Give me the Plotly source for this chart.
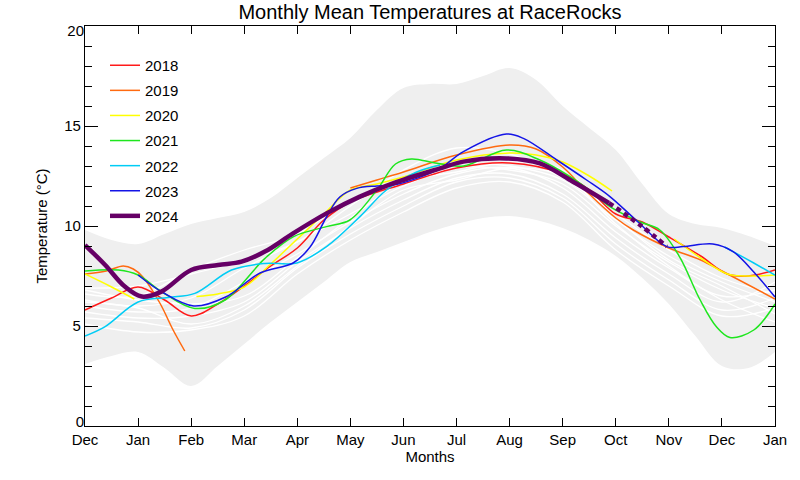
import plotly.graph_objects as go

month_labels = ["Dec", "Jan", "Feb", "Mar", "Apr", "May", "Jun", "Jul",
                "Aug", "Sep", "Oct", "Nov", "Dec", "Jan"]
month_pos = list(range(14))
temp_ticks_mid = [5, 10, 15]
temp_tick_low = [0]
temp_tick_high = [20]

# envelope (min / max of all years)
band_x = [0, 0.5, 1, 1.5, 2, 2.5, 3, 3.5, 4, 4.5, 5, 5.5, 6, 6.5, 7, 7.5, 8, 8.5, 9, 9.5, 10, 10.5, 11, 11.5, 12, 12.5, 13]
band_hi = [9.8, 9.3, 9.1, 9.6, 10.1, 10.4, 10.7, 11.4, 12.4, 13.4, 14.4, 15.8, 16.9, 17.1, 17.1, 17.5, 17.9, 17.3, 16.0, 14.9, 13.8, 12.1, 10.6, 10.1, 9.9, 9.5, 9.0]
band_lo = [3.1, 3.5, 3.7, 2.9, 2.0, 3.0, 4.1, 5.2, 6.2, 7.2, 8.2, 8.7, 9.2, 9.7, 10.1, 10.4, 10.5, 10.3, 9.9, 9.3, 8.5, 7.4, 6.1, 4.5, 3.0, 2.9, 3.7]

# historic years (white lines)
hist_years = [
    [6.9, 7.0, 7.6, 8.3, 9.2, 11.0, 12.8, 13.9, 13.6, 12.4, 10.6, 8.8, 7.4, 6.6],
    [6.6, 6.5, 7.8, 8.8, 9.6, 11.3, 12.4, 13.1, 13.0, 12.3, 10.3, 8.5, 7.2, 6.2],
    [6.3, 6.0, 6.4, 7.9, 9.2, 10.6, 12.0, 12.9, 12.8, 12.1, 10.0, 8.2, 6.8, 5.9],
    [6.0, 5.7, 5.9, 7.2, 8.6, 10.2, 11.6, 12.6, 12.9, 11.9, 9.7, 7.9, 6.5, 6.8],
    [5.7, 5.4, 5.5, 6.2, 8.2, 9.9, 11.3, 12.4, 12.6, 11.6, 9.4, 7.6, 6.2, 7.2],
    [5.4, 5.2, 4.9, 5.8, 7.9, 9.6, 11.0, 12.2, 12.4, 11.4, 9.1, 7.3, 5.8, 6.4],
    [5.1, 4.7, 4.8, 5.5, 7.6, 9.3, 10.7, 11.9, 12.2, 11.2, 8.8, 7.0, 5.5, 5.9],
    [6.2, 5.9, 5.1, 6.0, 8.0, 10.0, 11.8, 12.3, 12.9, 12.5, 10.1, 8.0, 6.3, 5.2],
    [6.8, 6.3, 6.1, 6.5, 8.4, 10.4, 12.2, 12.7, 13.2, 12.8, 10.4, 8.3, 7.0, 5.6],
]

x2018 = [0, 0.5, 1, 1.5, 2, 2.5, 3, 3.5, 4, 4.5, 5, 6, 7, 8, 9, 9.5, 10, 10.5, 11, 11.6, 12.1, 12.5, 13]
y2018 = [5.8, 6.4, 6.95, 6.3, 5.5, 6.1, 7.0, 8.0, 8.9, 10.3, 11.2, 12.1, 12.9, 13.15, 12.6, 11.8, 10.6, 10.2, 9.45, 8.5, 7.6, 7.5, 7.8]

x2019 = [0, 0.4, 0.72, 0.91, 1.09, 1.41, 1.66, 1.88, None, 5.0, 5.5, 6, 7, 8, 8.5, 9, 9.5, 10, 10.33, 11, 11.6, 12, 13]
y2019 = [7.6, 7.75, 8.0, 7.85, 7.45, 6.15, 4.8, 3.75, None, 11.9, 12.3, 12.7, 13.55, 14.05, 13.85, 12.95, 11.6, 10.4, 9.8, 8.9, 8.3, 7.75, 6.35]

x2020 = [0, 0.5, 0.93, None, 2.1, 2.5, 3.0, 3.5, 4.0, 4.5, 5.0, 5.5, 6, 7, 8, 8.5, 9, 9.5, 9.93, None, 11.1, 11.6, 12.1, 12.5, 13]
y2020 = [7.6, 6.95, 6.35, None, 6.47, 6.6, 6.95, 8.1, 9.35, 10.6, 11.8, 12.1, 12.45, 13.3, 13.65, 13.55, 13.2, 12.5, 11.75, None, 9.35, 8.4, 7.6, 7.5, 7.55]

x2021 = [0, 0.63, 1.0, 1.44, 2.07, 2.64, 3.39, 3.93, 4.55, 4.99, 5.5, 5.85, 6.15, 6.6, 7.13, 7.94, 8.57, 9.14, 9.5, 9.89, 10.46, 10.83, 11.2, 11.59, 11.9, 12.15, 12.6, 13.0]
y2021 = [7.75, 7.8, 7.55, 6.72, 5.88, 6.3, 8.38, 9.47, 9.97, 10.3, 11.8, 13.1, 13.35, 13.15, 13.0, 13.8, 13.3, 12.47, 11.8, 10.97, 10.2, 9.8, 8.47, 6.3, 4.95, 4.43, 4.8, 6.1]

x2022 = [0, 0.38, 1.0, 1.57, 2.07, 2.76, 3.39, 3.99, 4.55, 5.18, 5.68, 6.25, 6.69, None, 12.05, 12.21, 12.6, 13.0]
y2022 = [4.5, 4.97, 6.2, 6.43, 6.63, 7.8, 8.13, 8.15, 8.97, 10.47, 11.8, 12.7, 13.05, None, 8.95, 8.72, 8.15, 7.55]

x2023 = [1.0, 1.45, 2.05, 2.65, 3.3, 3.92, 4.24, 4.55, 4.8, 5.12, 5.5, 5.81, 6.25, 6.69, 7.13, 7.94, 8.26, 8.89, 9.45, 9.89, 10.42, 10.96, 11.27, 11.83, 12.21, 12.6, 13.0]
y2023 = [7.55, 6.7, 6.0, 6.45, 7.65, 8.15, 8.95, 10.45, 11.45, 11.88, 12.0, 12.05, 12.38, 12.88, 13.72, 14.6, 14.38, 13.3, 12.3, 11.47, 10.2, 8.97, 8.97, 9.1, 8.72, 7.7, 6.45]

x2024 = [0, 0.38, 0.75, 1.07, 1.44, 2.0, 2.51, 2.95, 3.39, 3.92, 4.55, 5.18, 5.8, 6.69, 7.13, 7.94, 8.57, 9.14, 9.87]
y2024 = [9.05, 8.05, 6.97, 6.47, 6.72, 7.8, 8.05, 8.22, 8.72, 9.63, 10.63, 11.47, 12.13, 12.88, 13.22, 13.38, 13.13, 12.3, 11.15]
x2024_fc = [9.87, 10.46, 10.96]
y2024_fc = [11.15, 10.05, 8.97]

years = [
    ("2018", x2018, y2018, "#ff1a1a", 1.5),
    ("2019", x2019, y2019, "#ff6a10", 1.5),
    ("2020", x2020, y2020, "#ffff00", 1.5),
    ("2021", x2021, y2021, "#1ee61e", 1.5),
    ("2022", x2022, y2022, "#00ccf5", 1.5),
    ("2023", x2023, y2023, "#1414e6", 1.5),
    ("2024", x2024, y2024, "#660066", 4.5),
]

FONT = "Liberation Sans, Arial, Helvetica, sans-serif"
fig = go.Figure()

fig.add_trace(go.Scatter(x=band_x, y=band_lo, mode="lines", line=dict(width=0, shape="spline"),
                         showlegend=False, hoverinfo="skip"))
fig.add_trace(go.Scatter(x=band_x, y=band_hi, mode="lines", line=dict(width=0, shape="spline"),
                         fill="tonexty", fillcolor="#efefef", showlegend=False, hoverinfo="skip"))

for h in hist_years:
    fig.add_trace(go.Scatter(x=month_pos, y=h, mode="lines",
                             line=dict(color="white", width=1.3, shape="spline", smoothing=1.0),
                             showlegend=False, hoverinfo="skip"))

for name, xs, ys, col, w in years:
    fig.add_trace(go.Scatter(x=xs, y=ys, mode="lines", name=name, legendgroup=name,
                             line=dict(color=col, width=w, shape="spline", smoothing=1.0),
                             connectgaps=False))

fig.add_trace(go.Scatter(x=x2024_fc, y=y2024_fc, mode="lines", legendgroup="2024", showlegend=False,
                         line=dict(color="#660066", width=4.5, dash="5px,4px", shape="spline")))

# helper (empty) traces so the label-only overlay axes are drawn
fig.add_trace(go.Scatter(x=[None], y=[None], yaxis="y2", showlegend=False, hoverinfo="skip"))
fig.add_trace(go.Scatter(x=[None], y=[None], yaxis="y3", showlegend=False, hoverinfo="skip"))

fig.update_layout(
    width=800, height=480,
    margin=dict(l=85, r=25, t=26, b=54),
    paper_bgcolor="white", plot_bgcolor="white",
    font=dict(family=FONT, size=15, color="black"),
    title=dict(text="Monthly Mean Temperatures at RaceRocks", x=0.5375, xanchor="center",
               y=1 - 12 / 480, yanchor="middle", yref="container",
               font=dict(size=20, family=FONT, color="black")),
    legend=dict(x=0.029, y=0.9425, xanchor="left", yanchor="top", bgcolor="rgba(0,0,0,0)",
                font=dict(size=15, family=FONT), tracegroupgap=2.6, traceorder="grouped"),
    showlegend=True,
    yaxis2=dict(overlaying="y", side="left", range=[0, 20], tickvals=temp_tick_low,
                ticks="", showline=False, showgrid=False, zeroline=False,
                ticklabelshift=-4, ticklabelstandoff=0),
    yaxis3=dict(overlaying="y", side="left", range=[0, 20], tickvals=temp_tick_high,
                ticks="", showline=False, showgrid=False, zeroline=False,
                ticklabelshift=5, ticklabelstandoff=0),
)
fig.update_xaxes(range=[0, 13], tickvals=month_pos, ticktext=month_labels,
                 ticks="inside", ticklen=8, tickcolor="black", showline=True, linecolor="black",
                 linewidth=1.2, mirror="ticks", showgrid=False, zeroline=False,
                 title=dict(text="Months", standoff=2, font=dict(size=15)))
fig.update_layout(yaxis=dict(range=[0, 20], tickvals=temp_ticks_mid,
                 ticks="inside", ticklen=13, tickcolor="black", showline=True, linecolor="black",
                 linewidth=1.2, mirror="ticks", showgrid=False, zeroline=False,
                 minor=dict(dtick=1, ticks="inside", ticklen=7, tickcolor="black", showgrid=False),
                 title=dict(text="Temperature (°C)", standoff=12, font=dict(size=15))))
# major ticks at 0 and 20 still drawn via the minor tick set; make them long with extra tickvals
fig.update_yaxes(selector=dict(overlaying="y"))

fig.write_html("out.html", config={"displayModeBar": False},
               post_script="document.body.style.margin='0px';")
